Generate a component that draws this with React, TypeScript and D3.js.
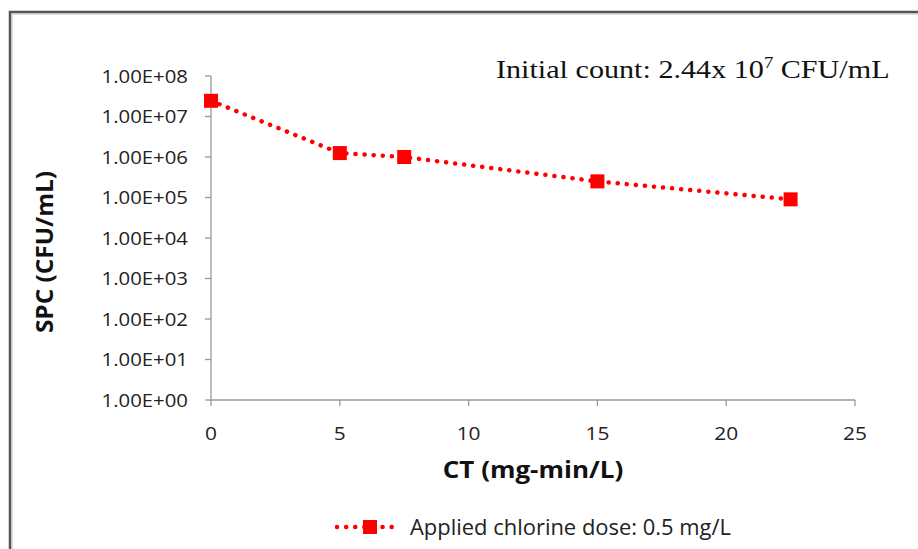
import React from "react";
import * as d3 from "d3";

const ctValues = [0, 5, 7.5, 15, 22.5];
const spcValues = [2.44e7, 1.25e6, 1.0e6, 2.5e5, 9.0e4];
const xTicks = [0, 5, 10, 15, 20, 25];
const yTicks = [1e0, 1e1, 1e2, 1e3, 1e4, 1e5, 1e6, 1e7, 1e8];
const seriesName = "Applied chlorine dose: 0.5 mg/L";
const xTitle = "CT (mg-min/L)";
const yTitle = "SPC (CFU/mL)";

const W = 918;
const H = 549;
const left = 211;
const right = 855;
const top = 76;
const bottom = 400;
const RED = "#ff0000";
const AXIS = "#9a9a9a";
const TXT = "#222";
const CAL = "'Open Sans', Lato, sans-serif";
const SX = 1.1;

function fmtExp(v: number) {
  const e = Math.round(Math.log10(v));
  return "1.00E+" + String(e).padStart(2, "0");
}

export default function App() {
  const x = d3.scaleLinear().domain([0, 25]).range([left, right]);
  const y = d3.scaleLog().domain([1, 1e8]).range([bottom, top]);
  const pts: [number, number][] = ctValues.map((c, i) => [x(c), y(spcValues[i])]);
  const line = d3.line()(pts) || "";
  const ms = 14;
  return (
    <svg width={W} height={H} style={{ display: "block", position: "absolute", left: 0, top: 0 }}>
      <rect x={0} y={0} width={W} height={H} fill="#fff" />
      <rect x={10} y={12} width={W + 20} height={H + 20} fill="none" stroke="#555" strokeWidth={2.5} />
      <rect x={12} y={14} width={W + 20} height={H + 20} fill="none" stroke="#bbb" strokeWidth={1} />
      {/* y axis */}
      <line x1={left} x2={left} y1={top} y2={bottom} stroke={AXIS} strokeWidth={1.3} />
      {yTicks.map((t) => (
        <g key={t}>
          <line x1={left - 6} x2={left} y1={y(t)} y2={y(t)} stroke={AXIS} strokeWidth={1.3} />
          <text
            transform={`translate(188,${y(t) + 6.5}) scale(${SX},1)`}
            textAnchor="end"
            fontFamily={CAL}
            fontSize={18.5}
            fill={TXT}
          >
            {fmtExp(t)}
          </text>
        </g>
      ))}
      {/* x axis */}
      <line x1={left} x2={right} y1={bottom} y2={bottom} stroke={AXIS} strokeWidth={1.3} />
      {xTicks.map((t) => (
        <g key={t}>
          <line x1={x(t)} x2={x(t)} y1={bottom} y2={bottom + 6} stroke={AXIS} strokeWidth={1.3} />
          <text
            transform={`translate(${x(t)},440) scale(${SX},1)`}
            textAnchor="middle"
            fontFamily={CAL}
            fontSize={19}
            fill={TXT}
          >
            {t}
          </text>
        </g>
      ))}
      <text
        transform={`translate(533,478) scale(1.13,1)`}
        textAnchor="middle"
        fontFamily={CAL}
        fontWeight="bold"
        fontSize={23}
        fill="#111"
      >
        {xTitle}
      </text>
      <text
        transform={`translate(53,252) rotate(-90) scale(1.06,1)`}
        textAnchor="middle"
        fontFamily={CAL}
        fontWeight="bold"
        fontSize={23}
        fill="#111"
      >
        {yTitle}
      </text>
      {/* series */}
      <path d={line} fill="none" stroke={RED} strokeWidth={4.5} strokeDasharray="0.1 9" strokeLinecap="round" />
      {pts.map(([px, py], i) => (
        <rect key={i} x={px - ms / 2} y={py - ms / 2} width={ms} height={ms} fill={RED} />
      ))}
      {/* annotation */}
      <text
        transform={`translate(496,78) scale(1.16,1)`}
        fontFamily="'Liberation Serif', 'Times New Roman', serif"
        fontSize={26}
        fill="#111"
      >
        Initial count: 2.44x 10
        <tspan dy={-10} fontSize={16}>7</tspan>
        <tspan dy={10}> CFU/mL</tspan>
      </text>
      {/* legend */}
      <line x1={337} x2={398} y1={527} y2={527} stroke={RED} strokeWidth={4.5} strokeDasharray="0.1 9" strokeLinecap="round" />
      <rect x={363} y={520} width={14} height={14} fill={RED} />
      <text
        transform={`translate(410,535) scale(1.045,1)`}
        fontFamily={CAL}
        fontSize={21}
        fill={TXT}
      >
        {seriesName}
      </text>
    </svg>
  );
}
